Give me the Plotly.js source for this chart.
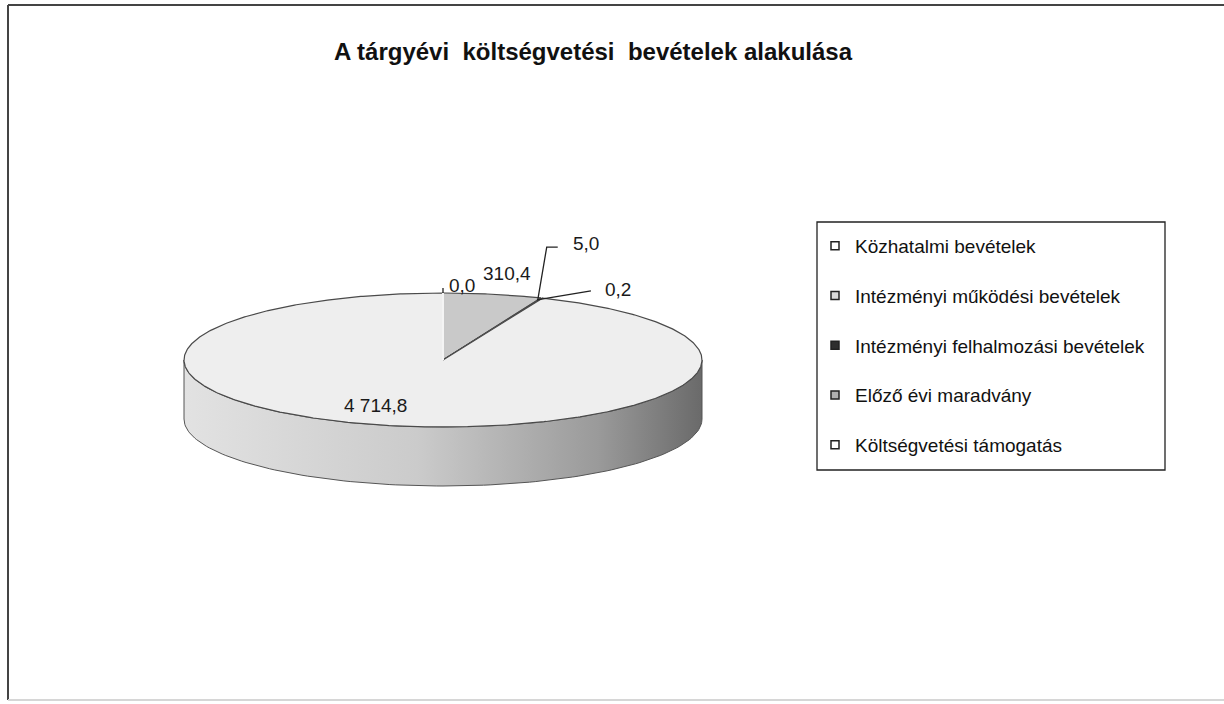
<!DOCTYPE html>
<html>
<head>
<meta charset="utf-8">
<script src="https://cdn.plot.ly/plotly-3.0.1.min.js"></script>
<style>html,body{margin:0;padding:0;background:#fff;}#chart{width:1224px;height:704px;}</style>
</head>
<body>
<div id="chart"></div>
<script>
// ---- data ----
const categories = ['Közhatalmi bevételek', 'Intézményi működési bevételek', 'Intézményi felhalmozási bevételek', 'Előző évi maradvány', 'Költségvetési támogatás'];
const values = [0.0, 310.4, 0.2, 5.0, 4714.8];
const titleText = 'A tárgyévi  költségvetési  bevételek alakulása';

// ---- style ----
const sliceColors = ['#ffffff', '#c9c9c9', '#2e2e2e', '#a9a9a9', '#eeeeee'];
const legendColors = ['#ffffff', '#d9d9d9', '#2e2e2e', '#b0b0b0', '#ffffff'];
const geom = {cx: 443, cy: 360, rx: 259, ry: 67, depth: 59};
const labelStyle = [
  {dx: 4, dy: -8, xanchor: 'left', leader: [[0, 0], [0, -5]]},
  {dx: 14, dy: -21, xanchor: 'center', leader: null},
  {dx: 62, dy: -8, xanchor: 'left', leader: [[-4, 2], [50, -7]]},
  {dx: 29, dy: -55, xanchor: 'left', leader: [[-4, 2], [5, -51], [16, -51]]},
  {dx: -17, dy: -20, xanchor: 'center', leader: null}
];
const font = '"Liberation Sans", Arial, sans-serif';

function fmt(v) {
  const parts = v.toFixed(1).split('.');
  const int = parts[0].replace(/\B(?=(\d{3})+(?!\d))/g, ' ');
  return int + ',' + parts[1];
}
function pt(theta, drop) {
  const r = theta * Math.PI / 180;
  return [geom.cx + geom.rx * Math.sin(r), geom.cy - geom.ry * Math.cos(r) + (drop || 0)];
}

const total = values.reduce((a, b) => a + b, 0);
let acc = 0;
const slices = values.map(v => {
  const a0 = acc / total * 360;
  acc += v;
  const a1 = acc / total * 360;
  return {a0, a1, mid: (a0 + a1) / 2};
});

const traces = [];
// side walls (front half: 90..270 degrees)
slices.forEach((s, i) => {
  const a = Math.max(s.a0, 90), b = Math.min(s.a1, 270);
  if (b <= a) return;
  const xs = [], ys = [];
  const n = 120;
  for (let k = 0; k <= n; k++) { const p = pt(a + (b - a) * k / n); xs.push(p[0]); ys.push(p[1]); }
  for (let k = n; k >= 0; k--) { const p = pt(a + (b - a) * k / n, geom.depth); xs.push(p[0]); ys.push(p[1]); }
  xs.push(xs[0]); ys.push(ys[0]);
  traces.push({
    type: 'scatter', mode: 'lines', x: xs, y: ys, fill: 'toself',
    fillcolor: sliceColors[i],
    fillgradient: {type: 'horizontal', colorscale: [[0, '#e2e2e2'], [0.45, '#cbcbcb'], [0.8, '#9a9a9a'], [1, '#6a6a6a']]},
    line: {color: '#555555', width: 1}, hoverinfo: 'skip', showlegend: false
  });
});
// top faces
slices.forEach((s, i) => {
  if (s.a1 - s.a0 <= 0) return;
  const xs = [geom.cx], ys = [geom.cy];
  const n = Math.max(4, Math.ceil((s.a1 - s.a0) * 2));
  for (let k = 0; k <= n; k++) { const p = pt(s.a0 + (s.a1 - s.a0) * k / n); xs.push(p[0]); ys.push(p[1]); }
  xs.push(geom.cx); ys.push(geom.cy);
  traces.push({
    type: 'scatter', mode: 'lines', x: xs, y: ys, fill: 'toself',
    fillcolor: sliceColors[i], line: {color: '#4a4a4a', width: 1.2},
    hoverinfo: 'skip', showlegend: false
  });
});
// light seam at 0 degrees
(function () {
  const p = pt(0);
  traces.push({type: 'scatter', mode: 'lines', x: [geom.cx, p[0]], y: [geom.cy, p[1]],
    line: {color: '#f4f4f4', width: 2}, hoverinfo: 'skip', showlegend: false});
})();
// leader lines + labels
const annotations = [];
slices.forEach((s, i) => {
  const p = pt(s.mid);
  const st = labelStyle[i];
  if (st.leader) {
    traces.push({type: 'scatter', mode: 'lines',
      x: st.leader.map(d => p[0] + d[0]), y: st.leader.map(d => p[1] + d[1]),
      line: {color: '#222222', width: 1.3}, hoverinfo: 'skip', showlegend: false});
  }
  annotations.push({x: p[0] + st.dx, y: p[1] + st.dy, xref: 'x', yref: 'y',
    text: fmt(values[i]), showarrow: false, xanchor: st.xanchor, yanchor: 'middle',
    font: {family: font, size: 19, color: '#1a1a1a'}});
});
// legend entries
categories.forEach((c, i) => {
  traces.push({type: 'scatter', mode: 'markers', x: [null], y: [null], name: c,
    legendgroup: 'g' + i,
    marker: {symbol: 'square', size: 8, color: legendColors[i], line: {color: '#222222', width: 1.5}}});
});

const layout = {
  width: 1224, height: 704,
  margin: {l: 0, r: 0, t: 0, b: 0},
  paper_bgcolor: '#ffffff', plot_bgcolor: '#ffffff',
  xaxis: {range: [0, 1224], visible: false, fixedrange: true},
  yaxis: {range: [704, 0], visible: false, fixedrange: true},
  title: {text: '<b>' + titleText.replace(/  /g, ' \u00a0') + '</b>', x: 593 / 1224, xanchor: 'center', xref: 'paper',
    y: 1 - 52 / 704, yanchor: 'middle', yref: 'paper',
    font: {family: font, size: 24, color: '#111111'}},
  showlegend: true,
  legend: {x: 815 / 1224, xanchor: 'left', y: 1 - 227 / 704, yanchor: 'top',
    traceorder: 'grouped', tracegroupgap: 22, bgcolor: 'rgba(0,0,0,0)', borderwidth: 0,
    font: {family: font, size: 19, color: '#111111'}},
  annotations: annotations,
  shapes: [
    {type: 'rect', xref: 'x', yref: 'y', x0: 817, x1: 1165, y0: 222, y1: 470, line: {color: '#222222', width: 1.3}},
    {type: 'line', xref: 'x', yref: 'y', x0: 8, x1: 8, y0: 5, y1: 700, line: {color: '#444444', width: 2}},
    {type: 'line', xref: 'x', yref: 'y', x0: 8, x1: 1224, y0: 5, y1: 5, line: {color: '#444444', width: 2}},
    {type: 'line', xref: 'x', yref: 'y', x0: 8, x1: 1224, y0: 700, y1: 700, line: {color: '#d6d6d6', width: 2}}
  ]
};
Plotly.newPlot('chart', traces, layout, {displayModeBar: false, staticPlot: true});
</script>
</body>
</html>
